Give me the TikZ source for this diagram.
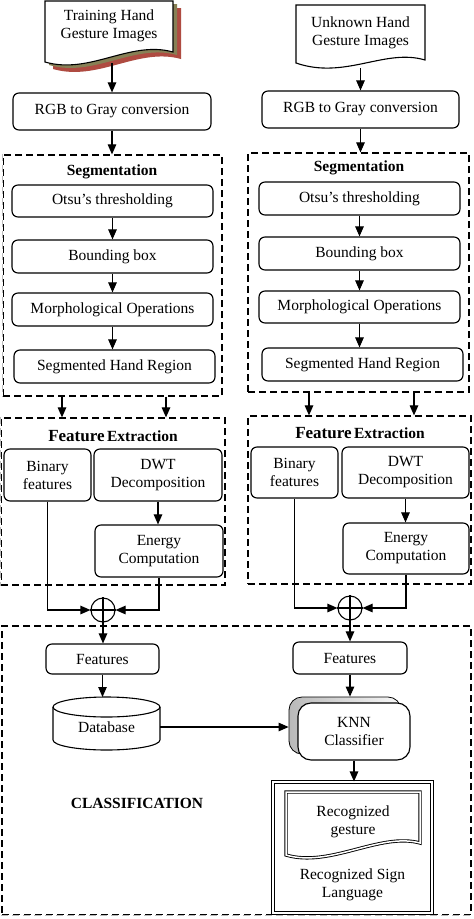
\documentclass[tikz,border=0pt]{standalone}
\usepackage{fontspec}
\setmainfont{Liberation Serif}
\usetikzlibrary{arrows.meta,calc}
\newcommand\fsz{\fontsize{15.5}{18}\selectfont}
\definecolor{shadolive}{RGB}{135,128,85}
\definecolor{shadred}{RGB}{175,75,65}
\begin{document}
\begin{tikzpicture}[x=1pt,y=-1pt,
  sz/.style 2 args={minimum width=#1, minimum height=#2},
  box/.style={draw, line width=1.15pt, rounded corners=6pt, inner sep=0pt, align=center, font=\fsz, fill=white},
  dbox/.style={draw, dash pattern=on 7pt off 4pt, line width=1.2pt, inner sep=0pt},
  gedge/.style={draw=gray!55, dash pattern=on 7pt off 4pt, line width=1.3pt},
  arr/.style={line width=1.1pt, -{Triangle[length=10pt,width=8.5pt]}},
  ln/.style={line width=1.1pt},
  lbl/.style={font=\fsz\bfseries, inner sep=0pt},
  txt/.style={font=\fsz, align=center, inner sep=0pt},
  sum/.style={circle, draw, line width=1.1pt, minimum size=24pt, inner sep=0pt, fill=white}
]
\useasboundingbox (0,0) rectangle (474,919);
\fill[white] (0,0) rectangle (474,919);

% ---------- dashed group boxes
\node[dbox, sz={219}{241}] (segL) at (112.5,275.5) {};
\node[dbox, sz={224}{167}] (feL) at (113,501.5) {};
\node[dbox, sz={221}{239}] (segR) at (358.5,272.5) {};
\node[dbox, sz={223}{168}] (feR) at (359.5,500) {};
\node[dbox, sz={469}{289}] (cls) at (236.5,770.5) {};
\draw[white, line width=2pt] (segL.north west) -- (segL.south west);
\draw[gedge] (segL.north west) -- (segL.south west);
\draw[white, line width=2pt] (feL.north west) -- (feL.south west);
\draw[gedge] (feL.north west) -- (feL.south west);
\draw[white, line width=2pt] (cls.south west) -- (cls.south east);
\draw[gedge] (cls.south west) -- (cls.south east);

% ---------- input documents
\fill[shadred] (53,8) -- (181,8) -- (181,59) .. controls (138,47) and (98,82) .. (53,69) -- cycle;
\fill[shadolive] (49,4) -- (177,4) -- (177,55) .. controls (134,43) and (94,78) .. (49,65) -- cycle;
\draw[ln, fill=white] (45,1) -- (173,1) -- (173,52) .. controls (130,40) and (90,75) .. (45,62) -- cycle;
\node[inner sep=0pt, sz={128}{64}] (tdoc) at (109,33) {};
\node[txt] (tdoct) at (109,25.5) {Training Hand\\Gesture Images};

\draw[ln, fill=white] (296,5) -- (425,5) -- (425,60) .. controls (385,48) and (345,80) .. (296,63) -- cycle;
\node[inner sep=0pt, sz={129}{63}] (udoc) at (360.5,36.5) {};
\node[txt] (udoct) at (360.5,32.5) {Unknown Hand\\Gesture Images};

% ---------- left column
\node[box, sz={198}{37}] (rgbL) at (112,111.5) {RGB to Gray conversion};
\node[lbl] (segLt) at (112,172) {Segmentation};
\node[box, sz={201}{32}] (otsuL) at (112.5,201) {Otsu’s thresholding};
\node[box, sz={201}{33}] (bbL) at (112.5,256.5) {Bounding box};
\node[box, sz={201}{33}] (morL) at (112.5,309.5) {Morphological Operations};
\node[box, sz={201}{33}] (shrL) at (114.5,366.5) {Segmented Hand Region};
\node[inner sep=0pt] (feLt) at (113,436) {{\fontsize{17}{20}\selectfont\bfseries Feature} {\fsz\bfseries Extraction}};
\node[box, sz={87}{52}] (binL) at (47.5,475) {Binary\\features};
\node[box, sz={128}{52}] (dwtL) at (158,475) {DWT\\Decomposition};
\node[box, sz={128}{52}] (enL) at (159,551) {Energy\\Computation};
\node[sum] (sumL) at (103,610) {};
\draw[ln] (sumL.north) -- (sumL.south) (sumL.west) -- (sumL.east);
\node[box, sz={113}{30}] (featL) at (102.5,659) {Features};

% database cylinder
\node[inner sep=0pt, sz={107}{46}, font=\fsz] (db) at (106.5,727) {Database};
\draw[ln] (53,707) -- (53,740) arc[start angle=180, end angle=0, x radius=53.5, y radius=10] -- (160,707);
\draw[ln] (106.5,707) ellipse [x radius=53.5, y radius=10];

% ---------- right column
\node[box, sz={197}{37}] (rgbR) at (360.5,109.5) {RGB to Gray conversion};
\node[lbl] (segRt) at (359,168) {Segmentation};
\node[box, sz={201}{33}] (otsuR) at (359.5,198.5) {Otsu’s thresholding};
\node[box, sz={201}{33}] (bbR) at (359.5,253.5) {Bounding box};
\node[box, sz={201}{32}] (morR) at (359.5,307) {Morphological Operations};
\node[box, sz={201}{33}] (shrR) at (362.5,364.5) {Segmented Hand Region};
\node[inner sep=0pt] (feRt) at (360,433) {{\fontsize{17}{20}\selectfont\bfseries Feature} {\fsz\bfseries Extraction}};
\node[box, sz={87}{51}] (binR) at (294.5,472.5) {Binary\\features};
\node[box, sz={127}{51}] (dwtR) at (405.5,472.5) {DWT\\Decomposition};
\node[box, sz={126}{51}] (enR) at (406,548.5) {Energy\\Computation};
\node[sum] (sumR) at (350,608) {};
\draw[ln] (sumR.north) -- (sumR.south) (sumR.west) -- (sumR.east);
\node[box, sz={114}{32}] (featR) at (350,658) {Features};

% KNN classifier with shaded copy behind
\node[draw, line width=0.8pt, rounded corners=13pt, sz={112}{57}, inner sep=0pt,
      left color=gray!55, right color=gray!5] (knnbk) at (345,725.5) {};
\node[box, rounded corners=13pt, sz={112}{57}] (knn) at (354,731.5) {KNN\\Classifier};

% result
\node[draw, double, double distance=2pt, line width=1.1pt, sz={159}{131}, inner sep=0pt] (res) at (352.5,847.5) {};
\draw[line width=0.9pt, double, double distance=1.5pt] (286,792) -- (420,792) -- (420,843) .. controls (380,832) and (330,868) .. (286,855) -- cycle;
\node[txt] (rgest) at (353,821.5) {Recognized\\gesture};
\node[txt] (rsign) at (352.5,885) {Recognized Sign\\Language};

\node[lbl] (clst) at (137,803) {CLASSIFICATION};

% ---------- connectors left
\draw[arr] (112,63) -- (112,63 |- rgbL.north);
\draw[arr] (rgbL.south) -- (rgbL.south |- segL.north);
\draw[arr] (otsuL.south) -- (bbL.north);
\draw[arr] (bbL.south) -- (morL.north);
\draw[arr] (morL.south) -- (morL.south |- shrL.north);
\draw[arr] ([xshift=-50.5pt]segL.south) -- ([xshift=-50.5pt]segL.south |- feL.north);
\draw[arr] ([xshift=53.5pt]segL.south) -- ([xshift=53.5pt]segL.south |- feL.north);
\draw[arr] (dwtL.south) -- (dwtL.south |- enL.north);
\draw[arr] (binL.south) |- (sumL.west);
\draw[arr] (enL.south) |- (sumL.east);
\draw[arr] (sumL.south) -- (sumL.south |- featL.north);
\draw[arr] (featL.south) -- (featL.south |- 0,697);

% ---------- connectors right
\draw[arr] (udoc.south) -- (udoc.south |- rgbR.north);
\draw[arr] (rgbR.south) -- (rgbR.south |- segR.north);
\draw[arr] (otsuR.south) -- (bbR.north);
\draw[arr] (bbR.south) -- (morR.north);
\draw[arr] (morR.south) -- (morR.south |- shrR.north);
\draw[arr] ([xshift=-49.5pt]segR.south) -- ([xshift=-49.5pt]segR.south |- feR.north);
\draw[arr] ([xshift=55.5pt]segR.south) -- ([xshift=55.5pt]segR.south |- feR.north);
\draw[arr] (dwtR.south) -- (dwtR.south |- enR.north);
\draw[arr] (binR.south) |- (sumR.west);
\draw[arr] (enR.south) |- (sumR.east);
\draw[arr] (sumR.south) -- (featR.north);
\draw[arr] (featR.south) -- (featR.south |- knnbk.north);
\draw[arr] (db.east) -- (db.east -| knnbk.west);
\draw[arr] (knn.south) -- (knn.south |- res.north);
\end{tikzpicture}
\end{document}
